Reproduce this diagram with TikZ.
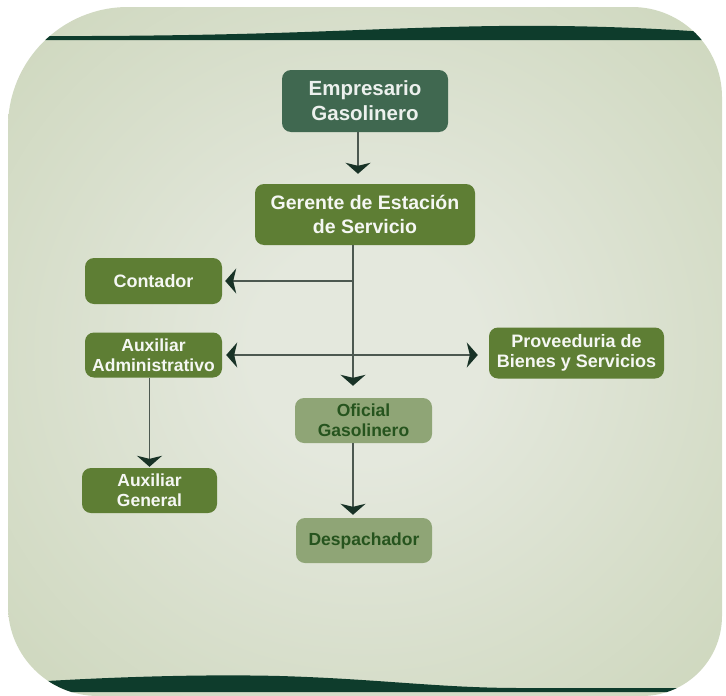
\documentclass[tikz,border=0pt]{standalone}
\usepackage{fontspec}
\setmainfont{Liberation Sans}
\usetikzlibrary{arrows.meta}

\definecolor{fondoin}{RGB}{228,232,221}
\definecolor{fondoout}{RGB}{195,207,174}
\definecolor{ola}{RGB}{14,60,44}
\definecolor{verdeosc}{RGB}{64,104,80}
\definecolor{oliva}{RGB}{94,126,52}
\definecolor{claro}{RGB}{143,165,118}
\definecolor{textoosc}{RGB}{38,84,30}
\definecolor{linea}{RGB}{76,88,80}
\definecolor{punta}{RGB}{24,50,38}
\pgfdeclareradialshading{fondo}{\pgfpoint{0bp}{0bp}}{color(0bp)=(fondoin); color(8bp)=(fondoin); color(48bp)=(fondoout); color(100bp)=(fondoout)}

\def\marco{(8,127) .. controls (8,60.7) and (61.7,7) .. (128,7) -- (632,7)
    .. controls (681.7,7) and (722,47.3) .. (722,97) -- (722,616)
    .. controls (722,660.2) and (686.2,696) .. (642,696) -- (98,696)
    .. controls (48.3,696) and (8,655.7) .. (8,606) -- cycle}

\begin{document}
\begin{tikzpicture}[x=1pt, y=-1pt,
    caja/.style={rounded corners=9pt, align=center, inner sep=0pt,
        minimum width=137pt, minimum height=45pt,
        font=\bfseries\fontsize{17.5}{20}\selectfont},
    cajaosc/.style={caja, fill=verdeosc, text=white!90!verdeosc,
        font=\bfseries\fontsize{20.5}{25}\selectfont},
    cajaver/.style={caja, fill=oliva, text=white!94!oliva},
    cajacla/.style={caja, fill=claro, text=textoosc},
    flecha/.style={draw=linea, line width=1.6pt,
        -{Stealth[length=11pt, width=25pt, inset=3pt, color=punta]}},
    flecha2/.style={flecha,
        {Stealth[length=11pt, width=25pt, inset=3pt, color=punta]}-{Stealth[length=11pt, width=25pt, inset=3pt, color=punta]}}]
    \useasboundingbox (0,0) rectangle (726,696);

    \path[shading=fondo] \marco;
    \begin{scope}
        \clip \marco;
        \fill[ola] (0,36) .. controls (250,37) and (330,30) .. (450,27)
            .. controls (550,24) and (650,27) .. (730,34) -- (730,40) -- (0,40) -- cycle;
        \fill[ola] (0,692) -- (0,684) .. controls (100,677) and (200,674) .. (280,676)
            .. controls (380,679) and (440,688) .. (520,688) -- (730,688) -- (730,692) -- cycle;
    \end{scope}

    \node[cajaosc, minimum width=166pt, minimum height=62pt] (emp) at (365,101) {Empresario\\Gasolinero};
    \node[cajaver, font=\bfseries\fontsize{19.5}{24}\selectfont, minimum width=220pt, minimum height=61pt] (ger) at (365,214.5) {Gerente de Estación\\de Servicio};
    \node[cajaver, font=\bfseries\fontsize{18}{20}\selectfont, minimum height=46pt] (cont) at (153.5,281) {Contador};
    \node[cajaver] (auxadm) at (153.5,355) {Auxiliar\\Administrativo};
    \node[cajaver, font=\bfseries\fontsize{18}{20}\selectfont, minimum width=175pt, minimum height=51pt] (prov) at (576.5,353) {Proveeduria de\\Bienes y Servicios};
    \node[cajacla] (ofi) at (363.5,420.5) {Oficial\\Gasolinero};
    \node[cajaver, minimum width=135pt] (auxgen) at (149.5,490.5) {Auxiliar\\General};
    \node[cajacla, minimum width=136pt] (desp) at (364,540.5) {Despachador};

    \coordinate (rama) at ([xshift=-12pt]ger.south |- cont.east);

    \draw[flecha, shorten >=10pt] ([xshift=-7pt]emp.south) -- ([xshift=-7pt]ger.north);
    \draw[flecha, shorten >=12pt] ([xshift=-12pt]ger.south) -- ([xshift=-12pt]ger.south |- ofi.north);
    \draw[flecha, shorten >=3pt] (rama) -- (cont.east);
    \draw[flecha2, shorten <=4pt, shorten >=11pt] (auxadm.east) -- (auxadm.east -| prov.west);
    \draw[flecha, shorten >=1pt] (auxadm.south -| auxgen.north) -- (auxgen.north);
    \draw[flecha, shorten >=3pt] ([xshift=-10.5pt]ofi.south) -- ([xshift=-10.5pt]ofi.south |- desp.north);
\end{tikzpicture}
\end{document}
